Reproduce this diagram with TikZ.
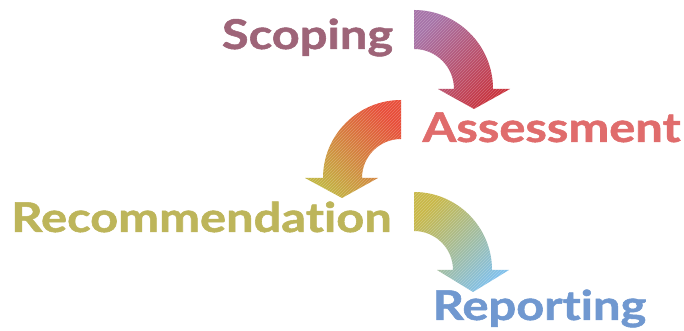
\documentclass[tikz,border=0pt]{standalone}
\usepackage{fontspec}
\setmainfont{Lato}[Ligatures=NoCommon, BoldFeatures={FakeBold=1.2}]
\usetikzlibrary{patterns}
\definecolor{cScope}{HTML}{9E6478}
\definecolor{cAssess}{HTML}{E06C6C}
\definecolor{cRecom}{HTML}{BDB55A}
\definecolor{cReport}{HTML}{7098D0}
\definecolor{aPurple}{HTML}{A673A8}
\definecolor{aRed}{HTML}{C8323C}
\definecolor{aOrange}{HTML}{E84C38}
\definecolor{aOlive}{HTML}{C2B442}
\definecolor{aYellow}{HTML}{C8B848}
\definecolor{aBlue}{HTML}{80C0EA}
\tikzset{
  lbl/.style={anchor=base, inner sep=0pt, xscale=1.19, font=\fontsize{41}{41}\selectfont\bfseries},
  hatch/.style={pattern=north east lines, pattern color=white, opacity=0.25}
}
\begin{document}
\begin{tikzpicture}[x=1pt,y=1pt]
\useasboundingbox[fill=white] (0,0) rectangle (684,331);
% arrow 1: Scoping -> Assessment
\def\arrowA{(414,321) arc[start angle=90,end angle=0,radius=79] -- (510,242) -- (474,222) -- (438,242) -- (454,242) arc[start angle=0,end angle=90,radius=40] -- cycle}
\shade[top color=aPurple, bottom color=aRed, shading angle=45] \arrowA;
\fill[hatch] \arrowA;
% arrow 2: Assessment -> Recommendation
\def\arrowB{(401,231) arc[start angle=90,end angle=180,radius=78] -- (305,153) -- (342,133) -- (378,153) -- (362,153) arc[start angle=180,end angle=90,radius=39] -- cycle}
\shade[top color=aOrange, bottom color=aOlive, shading angle=-45] \arrowB;
\fill[hatch] \arrowB;
% arrow 3: Recommendation -> Reporting
\def\arrowC{(414,139) arc[start angle=90,end angle=0,radius=78] -- (509,61) -- (473,39) -- (437,61) -- (453,61) arc[start angle=0,end angle=90,radius=39] -- cycle}
\shade[top color=aYellow, bottom color=aBlue, shading angle=45] \arrowC;
\fill[hatch] \arrowC;
% labels
\node[lbl, text=cScope] (scoping) at (307.5,282) {Scoping};
\node[lbl, text=cAssess] (assessment) at (551.5,189) {Assessment};
\node[lbl, text=cRecom] (recommendation) at (201.5,99) {Recommendation};
\node[lbl, text=cReport] (reporting) at (539.5,11) {Reporting};
\end{tikzpicture}
\end{document}
